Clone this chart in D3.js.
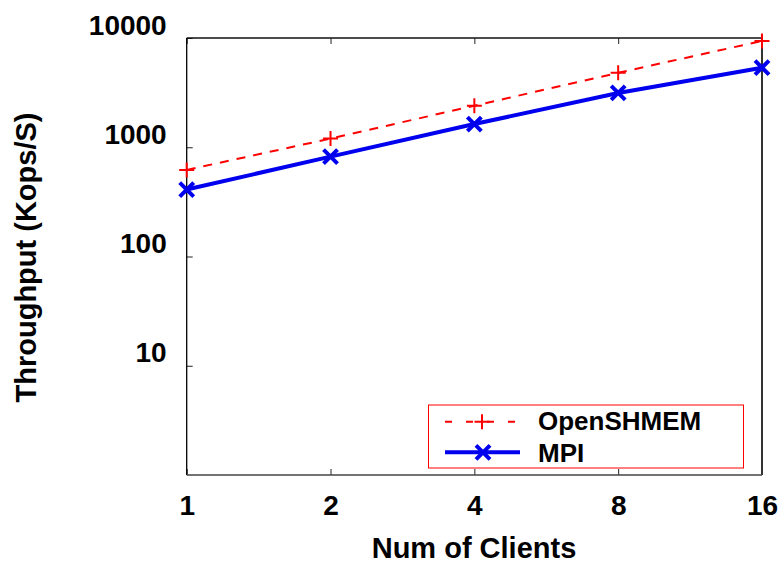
<!DOCTYPE html>
<html>
<head>
<meta charset="utf-8">
<script src="https://cdn.jsdelivr.net/npm/d3@7"></script>
<style>
  html, body { margin: 0; padding: 0; background: #fff; }
  svg { display: block; font-family: "Liberation Sans", Arial, Helvetica, sans-serif; font-weight: bold; }
</style>
</head>
<body>
<svg id="chart" width="784" height="563"></svg>
<script>
// Throughput vs. number of clients (log-log)
const clients = [1, 2, 4, 8, 16];
const openshmem = [620, 1200, 2400, 4800, 9400];
const mpi = [410, 820, 1630, 3140, 5350];
const yTickValues = [10, 100, 1000, 10000];
const seriesNames = ["OpenSHMEM", "MPI"];

const svg = d3.select("#chart");
const plotLeft = 186.7, plotRight = 762, plotTop = 38, plotBottom = 475;

const x = d3.scaleLog().base(2).domain([1, 16]).range([plotLeft, plotRight]);
const y = d3.scaleLog().domain([1, 10000]).range([plotBottom, plotTop]);

// Inward ticks (bottom, top, left)
const tickLen = 6;
const g = svg.append("g");

const xAxisB = d3.axisBottom(x).tickValues(clients).tickFormat(d3.format("d"))
  .tickSizeInner(-tickLen).tickSizeOuter(0).tickPadding(0);
const gxb = g.append("g").attr("transform", `translate(0,${plotBottom})`).call(xAxisB);
gxb.select(".domain").remove();
gxb.selectAll("line").attr("stroke", "#222");
gxb.selectAll("text").attr("y", 40).attr("dy", null)
  .attr("font-size", 28).attr("fill", "#000");

const xAxisT = d3.axisTop(x).tickValues(clients).tickFormat("")
  .tickSizeInner(-tickLen).tickSizeOuter(0);
const gxt = g.append("g").attr("transform", `translate(0,${plotTop})`).call(xAxisT);
gxt.select(".domain").remove();
gxt.selectAll("line").attr("stroke", "#222");

const yAxis = d3.axisLeft(y).tickValues(yTickValues).tickFormat(d3.format("d"))
  .tickSizeInner(-tickLen).tickSizeOuter(0).tickPadding(0);
const gy = g.append("g").attr("transform", `translate(${plotLeft},0)`).call(yAxis);
gy.select(".domain").remove();
gy.selectAll("line").attr("stroke", "#222");
gy.selectAll("text").attr("x", -20).attr("dy", null).attr("y", -4)
  .attr("font-size", 28).attr("fill", "#000");

// Frame
svg.append("line").attr("x1", plotLeft).attr("x2", plotLeft).attr("y1", plotTop).attr("y2", plotBottom)
  .attr("stroke", "#000").attr("stroke-width", 1.3);
svg.append("line").attr("x1", plotLeft).attr("x2", plotRight).attr("y1", plotTop).attr("y2", plotTop)
  .attr("stroke", "#111").attr("stroke-width", 1.3);
svg.append("line").attr("x1", plotRight).attr("x2", plotRight).attr("y1", plotTop).attr("y2", plotBottom)
  .attr("stroke", "#333").attr("stroke-width", 2);
svg.append("line").attr("x1", plotLeft).attr("x2", plotRight).attr("y1", plotBottom).attr("y2", plotBottom)
  .attr("stroke", "#444").attr("stroke-width", 1.6);

// Axis titles
svg.append("text").attr("x", 474).attr("y", 558).attr("text-anchor", "middle")
  .attr("font-size", 29).text("Num of Clients");
svg.append("text").attr("transform", "translate(36,257.5) rotate(-90)")
  .attr("text-anchor", "middle").attr("font-size", 29).text("Throughput (Kops/S)");

// Series
const line = d3.line().x(d => x(d[0])).y(d => y(d[1]));
const shmemPts = clients.map((c, i) => [c, openshmem[i]]);
const mpiPts = clients.map((c, i) => [c, mpi[i]]);

function plus(sel, cx, cy, s) {
  sel.append("path").attr("d", `M${cx - s},${cy}H${cx + s}M${cx},${cy - s}V${cy + s}`)
    .attr("stroke", "red").attr("stroke-width", 2).attr("fill", "none");
}
function cross(sel, cx, cy, s) {
  sel.append("path").attr("d", `M${cx - s},${cy - s}L${cx + s},${cy + s}M${cx - s},${cy + s}L${cx + s},${cy - s}`)
    .attr("stroke", "#0000ee").attr("stroke-width", 4).attr("fill", "none");
}

svg.append("path").datum(shmemPts).attr("d", line).attr("fill", "none")
  .attr("stroke", "red").attr("stroke-width", 2).attr("stroke-dasharray", "9,8");
svg.append("path").datum(mpiPts).attr("d", line).attr("fill", "none")
  .attr("stroke", "#0000ee").attr("stroke-width", 4);

const marks = svg.append("g");
shmemPts.forEach(p => plus(marks, x(p[0]), y(p[1]), 7.5));
mpiPts.forEach(p => cross(marks, x(p[0]), y(p[1]), 7));

// Legend
const lg = svg.append("g");
lg.append("rect").attr("x", 428.5).attr("y", 405).attr("width", 315).attr("height", 63)
  .attr("fill", "#fff").attr("stroke", "red").attr("stroke-width", 1);
lg.append("line").attr("x1", 445).attr("x2", 520).attr("y1", 421.7).attr("y2", 421.7)
  .attr("stroke", "red").attr("stroke-width", 2).attr("stroke-dasharray", "7,14");
plus(lg, 482, 421.7, 7.5);
lg.append("text").attr("x", 538).attr("y", 430).attr("font-size", 26).text(seriesNames[0]);
lg.append("line").attr("x1", 445).attr("x2", 520).attr("y1", 452.3).attr("y2", 452.3)
  .attr("stroke", "#0000ee").attr("stroke-width", 4);
cross(lg, 483, 452.3, 7);
lg.append("text").attr("x", 538).attr("y", 461.5).attr("font-size", 26).text(seriesNames[1]);
</script>
</body>
</html>
